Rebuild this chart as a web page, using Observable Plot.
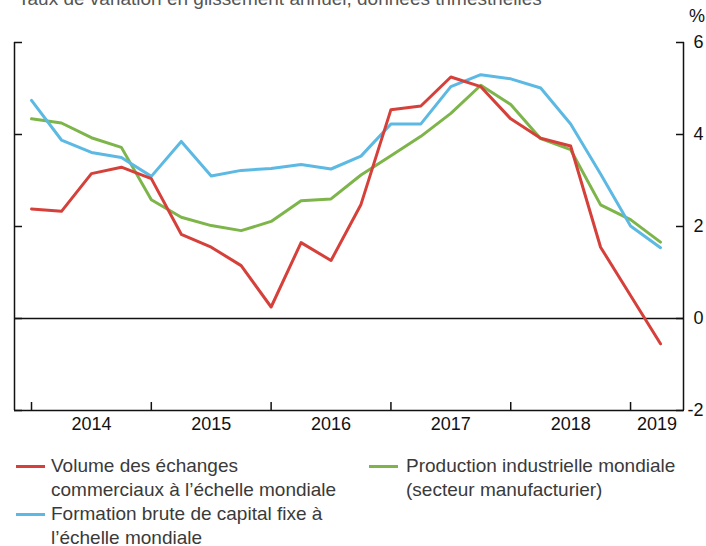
<!DOCTYPE html>
<html><head><meta charset="utf-8">
<script src="https://cdn.jsdelivr.net/npm/d3@7"></script>
<script src="https://cdn.jsdelivr.net/npm/@observablehq/plot@0.6"></script>
<style>
body{margin:0;background:#fff;}
#wrap{position:relative;width:706px;height:546px;overflow:hidden;font-family:"Liberation Sans",Arial,sans-serif;background:#fff;}
#chart{position:absolute;left:0;top:0;}
#title{position:absolute;left:18px;top:-12px;font-size:19px;color:#555;white-space:nowrap;}
#pct{position:absolute;left:689px;top:6px;font-size:18px;color:#111;}
.item{position:absolute;font-size:19px;line-height:24px;color:#3a3a3a;white-space:nowrap;}
.sw{position:absolute;width:29px;height:3px;}
</style></head><body>
<div id="wrap">
 <div id="chart"></div>
 <div id="title">Taux de variation en glissement annuel, données trimestrielles</div>
 <div id="pct">%</div>
 <div id="legend"></div>
</div>
<script>
const quarters = ["2014T1","2014T2","2014T3","2014T4","2015T1","2015T2","2015T3","2015T4",
  "2016T1","2016T2","2016T3","2016T4","2017T1","2017T2","2017T3","2017T4",
  "2018T1","2018T2","2018T3","2018T4","2019T1","2019T2"];
const volumeEchanges = [2.38, 2.33, 3.15, 3.29, 3.04, 1.83, 1.55, 1.15, 0.25, 1.65, 1.26, 2.48,
  4.54, 4.62, 5.25, 5.04, 4.34, 3.92, 3.75, 1.55, 0.50, -0.55];
const formationCapital = [4.74, 3.88, 3.61, 3.50, 3.09, 3.85, 3.10, 3.22, 3.26, 3.35, 3.25, 3.53,
  4.23, 4.23, 5.04, 5.30, 5.21, 5.01, 4.23, 3.14, 2.01, 1.54];
const productionIndustrielle = [4.34, 4.25, 3.93, 3.72, 2.58, 2.20, 2.02, 1.91, 2.11, 2.56, 2.60, 3.12,
  3.54, 3.96, 4.46, 5.07, 4.65, 3.91, 3.67, 2.47, 2.15, 1.66];
const seriesNames = ["Volume des échanges\ncommerciaux à l’échelle mondiale",
  "Formation brute de capital fixe à\nl’échelle mondiale",
  "Production industrielle mondiale\n(secteur manufacturier)"];
const seriesColors = ["#d6403a", "#5cb9e3", "#7db54a"];
const yTicks = [-2, 0, 2, 4, 6];
const yearTicks = [2014, 2015, 2016, 2017, 2018, 2019];
const yearLabels = ["2014", "2015", "2016", "2017", "2018", "2019"];

const xMin = 2013.858, xMax = 2019.442;
const qx = q => +q.slice(0, 4) + (+q.slice(5) - 1) / 4;

const rows = [];
[volumeEchanges, formationCapital, productionIndustrielle].forEach((vals, i) => {
  vals.forEach((v, j) => rows.push({s: i, x: qx(quarters[j]), y: v}));
});
const labelRows = yearTicks.map((y, i) => ({x: (y + Math.min(y + 1, xMax)) / 2, t: yearLabels[i]}));
const order = [2, 1, 0];

const chart = Plot.plot({
  width: 706, height: 445,
  marginLeft: 14, marginRight: 23, marginTop: 42, marginBottom: 35,
  style: {fontFamily: "Liberation Sans, Arial, sans-serif", fontSize: "18px", background: "transparent", color: "#111"},
  x: {domain: [xMin, xMax], axis: null, label: null},
  y: {domain: [-2, 6], axis: null, label: null},
  marks: [
    Plot.ruleY([0], {stroke: "#111", strokeWidth: 1.5}),
    ...order.map(i => Plot.line(rows.filter(r => r.s === i), {x: "x", y: "y", stroke: seriesColors[i], strokeWidth: 3})),
    Plot.ruleY([-2], {stroke: "#111", strokeWidth: 1.5}),
    Plot.ruleX([xMin, xMax], {stroke: "#111", strokeWidth: 1.5}),
    Plot.axisY({anchor: "left", ticks: yTicks, tickSize: -8, tickFormat: () => "", label: null, stroke: "#111", strokeWidth: 1.5}),
    Plot.axisY({anchor: "right", ticks: yTicks, tickSize: -8, tickFormat: () => "", label: null, stroke: "#111", strokeWidth: 1.5}),
    Plot.axisX({anchor: "bottom", ticks: yearTicks, tickSize: -8, tickFormat: () => "", label: null, stroke: "#111", strokeWidth: 1.5}),
    Plot.text(yTicks, {y: d => d, text: d => String(d), frameAnchor: "right", dx: 20, textAnchor: "end", fill: "#111"}),
    Plot.text(labelRows, {x: "x", text: "t", frameAnchor: "bottom", dy: 19, fill: "#111"})
  ]
});
document.getElementById("chart").appendChild(chart);

const legend = document.getElementById("legend");
const pos = [{x: 16, tx: 51, y: 454}, {x: 16, tx: 51, y: 502}, {x: 369, tx: 406, y: 454}];
seriesNames.forEach((name, i) => {
  const p = pos[i];
  const sw = document.createElement("div");
  sw.className = "sw";
  sw.style.left = p.x + "px"; sw.style.top = (p.y + 11) + "px"; sw.style.background = seriesColors[i];
  legend.appendChild(sw);
  const t = document.createElement("div");
  t.className = "item";
  t.style.left = p.tx + "px"; t.style.top = p.y + "px";
  t.innerHTML = name.split("\n").join("<br>");
  legend.appendChild(t);
});
</script>
</body></html>
